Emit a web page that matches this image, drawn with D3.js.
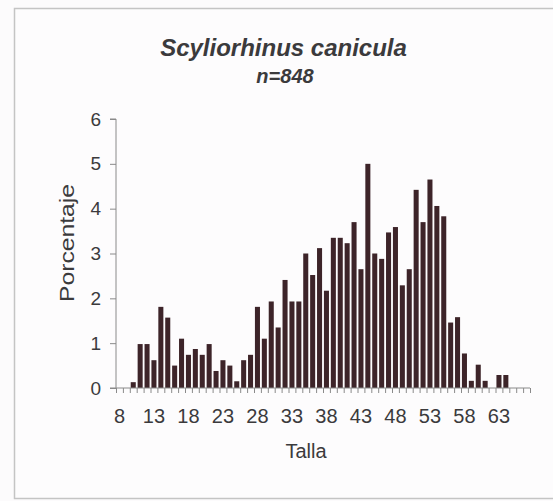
<!DOCTYPE html>
<html><head><meta charset="utf-8">
<script src="https://cdn.jsdelivr.net/npm/d3@7/dist/d3.min.js"></script>
<style>
html,body{margin:0;padding:0;background:#fcfbfc;}
svg{display:block;font-family:"Liberation Sans",Arial,sans-serif;}
</style></head>
<body>
<svg id="c" width="553" height="501"></svg>
<script>
const categories = d3.range(8, 68);
const values = [
  0, 0, 0.13, 0.98, 0.98, 0.62, 1.81, 1.57, 0.50, 1.10,
  0.74, 0.87, 0.74, 0.98, 0.38, 0.62, 0.50, 0.15, 0.62, 0.74,
  1.81, 1.10, 1.93, 1.35, 2.41, 1.93, 1.93, 3.00, 2.52, 3.12,
  2.17, 3.35, 3.35, 3.23, 3.70, 2.65, 5.00, 3.00, 2.88, 3.47,
  3.59, 2.29, 2.65, 4.42, 3.70, 4.65, 4.06, 3.83, 1.46, 1.58,
  0.77, 0.16, 0.52, 0.16, 0, 0.29, 0.29, 0, 0, 0
];
const xTickLabels = [8, 13, 18, 23, 28, 33, 38, 43, 48, 53, 58, 63];
const yTicks = [0, 1, 2, 3, 4, 5, 6];
const title = "Scyliorhinus canicula";
const subtitle = "n=848";
const xTitle = "Talla";
const yTitle = "Porcentaje";

const data = categories.map((c, i) => ({cat: c, v: values[i]}));
const svg = d3.select("#c");
const textCol = "#3b3a3c";
const axisCol = "#8a8a8a";

// frame
svg.append("rect").attr("x", 14.5).attr("y", 8.5).attr("width", 545).attr("height", 490)
  .attr("fill", "#fdfcfd").attr("stroke", "#c4c4c4").attr("stroke-width", 1.5);

const L = 116, R = 530, T = 119, B = 388;
const x = d3.scaleBand().domain(categories).range([L, R]).paddingInner(0.27).paddingOuter(0.135);
const xb = d3.scaleLinear().domain([categories[0] - 0.5, categories[categories.length - 1] + 0.5]).range([L, R]);
const y = d3.scaleLinear().domain([0, 6]).range([B, T]);

// bars
svg.append("g").selectAll("rect").data(data.filter(d => d.v > 0)).join("rect")
  .attr("x", d => x(d.cat)).attr("width", x.bandwidth())
  .attr("y", d => y(d.v)).attr("height", d => y(0) - y(d.v))
  .attr("fill", "#3d2429");

// y axis
const gy = svg.append("g").attr("transform", `translate(${L},0)`)
  .call(d3.axisLeft(y).tickValues(yTicks).tickSize(6).tickPadding(9).tickFormat(d3.format("d")));
gy.select(".domain").attr("stroke", axisCol).attr("d", `M-6,${T}H0V${B}`);
gy.selectAll(".tick line").attr("stroke", axisCol);
gy.selectAll("text").attr("fill", textCol).style("font-size", "19px");

// x axis minor ticks at boundaries
const bounds = d3.range(categories[0] - 0.5, categories[categories.length - 1] + 1, 1);
const gx = svg.append("g").attr("transform", `translate(0,${B})`)
  .call(d3.axisBottom(xb).tickValues(bounds).tickSize(5).tickFormat(""));
gx.select(".domain").attr("stroke", axisCol).attr("d", `M${L - 6},0H${R}`);
gx.selectAll(".tick line").attr("stroke", axisCol);

const gxl = svg.append("g").attr("transform", `translate(0,${B})`)
  .call(d3.axisBottom(x).tickValues(xTickLabels).tickSize(0).tickPadding(21));
gxl.select(".domain").remove();
gxl.selectAll("text").attr("fill", textCol).style("font-size", "20px");

// titles
svg.append("text").attr("x", 283.5).attr("y", 56).attr("text-anchor", "middle")
  .attr("fill", textCol).style("font-size", "24px").style("font-weight", "bold").style("font-style", "italic")
  .text(title);
svg.append("text").attr("x", 285).attr("y", 83).attr("text-anchor", "middle")
  .attr("fill", textCol).style("font-size", "20px").style("font-weight", "bold").style("font-style", "italic")
  .text(subtitle);
svg.append("text").attr("x", 306).attr("y", 458).attr("text-anchor", "middle")
  .attr("fill", textCol).style("font-size", "20px").text(xTitle);
svg.append("text").attr("transform", `translate(74,243) rotate(-90)`).attr("text-anchor", "middle")
  .attr("fill", textCol).style("font-size", "20px")
  .attr("textLength", 118).attr("lengthAdjust", "spacingAndGlyphs").text(yTitle);
</script>
</body></html>
